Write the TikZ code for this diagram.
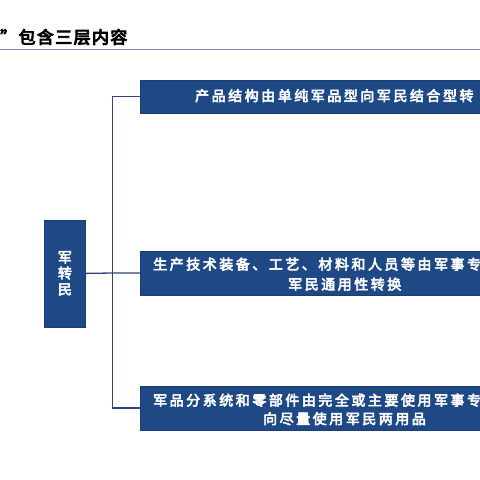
\documentclass[tikz,border=0pt]{standalone}
\usepackage{fontspec}
\newfontfamily\boxfont[LetterSpace=18,FakeBold=4]{Noto Sans CJK SC}
\newfontfamily\plaincjk[FakeBold=4]{Noto Sans CJK SC}
\newfontfamily\titlefont[LetterSpace=8,FakeBold=5]{Noto Sans CJK SC}
\definecolor{boxblue}{RGB}{31,73,133}
\definecolor{boxedge}{RGB}{26,62,115}
\definecolor{linkcol}{RGB}{52,68,122}
\definecolor{titleline}{RGB}{120,142,178}
\begin{document}
\begin{tikzpicture}[x=1pt,y=-1pt,
  box/.style={draw=boxedge, fill=boxblue, line width=0.8pt, inner sep=0pt, anchor=north west},
  link/.style={draw=linkcol, line width=1.3pt},
  btxt/.style={text=white, inner sep=0pt, anchor=base west, font=\boxfont\fontsize{14}{14}\selectfont}]
\useasboundingbox (0,0) rectangle (480,480);
\fill[white] (0,0) rectangle (480,480);
\node[anchor=base west, inner sep=0pt, font=\titlefont\fontsize{17}{17}\selectfont] (title) at (0,43.5) {”包含三层内容};
\coordinate (tl) at (0,49.3);
\coordinate (tr) at (480,49.3);
\draw[titleline, line width=1.3pt] (tl) -- (tr);
\node[box, minimum width=420pt, minimum height=33pt] (b1) at (140,79.5) {};
\node[box, minimum width=420pt, minimum height=44pt] (b2) at (140,250.5) {};
\node[box, minimum width=420pt, minimum height=44pt] (b3) at (140,385.5) {};
\node[box, minimum width=41pt, minimum height=107pt, text=white, align=center,
  font=\plaincjk\fontsize{14}{16}\selectfont] (lb) at (44,219.5) {军\\转\\民};
\node[btxt] (t1) at (195,101) {产品结构由单纯军品型向军民结合型转};
\node[btxt] (t2a) at (153,269.5) {生产技术装备、工艺、材料和人员等由军事专};
\node[btxt] (t2b) at (288,289.5) {军民通用性转换};
\node[btxt] (t3a) at (153,405.5) {军品分系统和零部件由完全或主要使用军事专};
\node[btxt] (t3b) at (263,424) {向尽量使用军民两用品};
\coordinate (j) at (112.5,273);
\draw[link] (lb.east) -- (j);
\draw[link] (b1.west) -| (j) |- (b3.west);
\draw[link] (j) -- (b2.west);
\end{tikzpicture}
\end{document}
